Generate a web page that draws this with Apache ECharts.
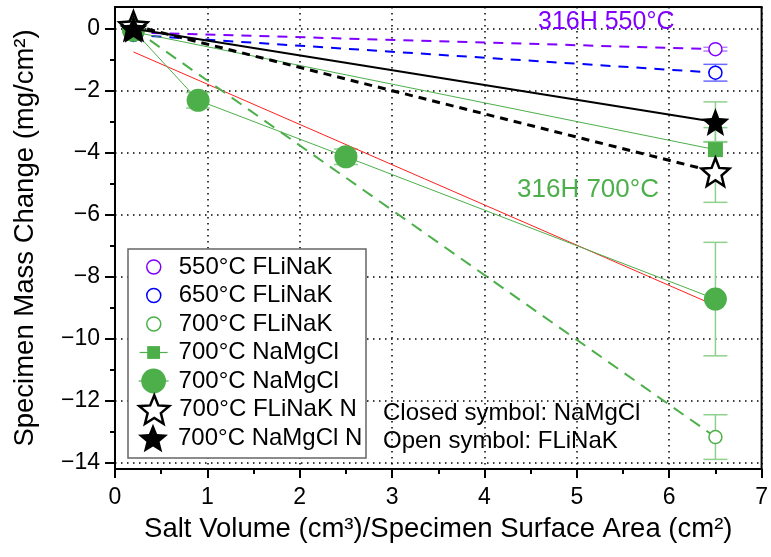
<!DOCTYPE html>
<html><head><meta charset="utf-8">
<script src="https://cdn.jsdelivr.net/npm/echarts@6/dist/echarts.min.js"></script>
<style>html,body{margin:0;padding:0;background:#fff}#c{width:771px;height:557px}</style>
</head><body><div id="c"></div>
<script>
// ---- data ----
const xEnds = [0.2, 6.5];
const fli550 = [-0.12, -0.66];
const fli550Err = [0, 0.06];
const fli650 = [-0.2, -1.42];
const fli650Err = [0, 0.27];
const fli700 = [0.0, -13.17];
const fli700Err = [0, 0.72];
const nmSq = [-0.1, -3.9];
const nmSqErr = [0, 0.71];
const nmCircX = [0.2, 0.9, 2.5, 6.5];
const nmCirc = [-0.05, -2.31, -4.13, -8.72];
const nmCircErr = [0, 0.25, 0.25, 1.83];
const fliN = [0.1, -4.62];
const fliNErr = [0, 0.98];
const nmN = [0.0, -3.01];
const nmNErr = [0, 0.65];
const fitX = [0.2, 6.5];
const fitY = [-0.75, -8.93];
const yTicks = [-14, -12, -10, -8, -6, -4, -2, 0];
const yMinorTicks = [-13, -11, -9, -7, -5, -3, -1];
const seriesIds = ['fli550', 'fli650', 'fli700', 'nmSq', 'nmCirc', 'fliN', 'nmN'];
const legendLabels = ['550°C FLiNaK', '650°C FLiNaK', '700°C FLiNaK', '700°C NaMgCl', '700°C NaMgCl', '700°C FLiNaK N', '700°C NaMgCl N'];
const annot550 = '316H 550°C';
const annot700 = '316H 700°C';
const noteClosed = 'Closed symbol: NaMgCl';
const noteOpen = 'Open symbol: FLiNaK';

// ---- styles ----
const FONT = '"Liberation Sans", Arial, Helvetica, sans-serif';
const PURPLE = '#7f00ff', BLUE = '#0000ff', GREEN = '#4daf4a', RED = '#ff2020';
const STAR = 'path://M50,0L62.93,32.2L97.55,34.55L70.92,56.8L79.39,90.45L50,72L20.61,90.45L29.08,56.8L2.45,34.55L37.07,32.2Z';

const zip = (xs, ys) => xs.map((x, i) => [x, ys[i]]);
const zip3 = (xs, ys, es) => xs.map((x, i) => [x, ys[i], es[i]]);

function errSeries(xs, ys, es, color) {
  return {
    type: 'custom', silent: true, z: 1,
    data: zip3(xs, ys, es),
    encode: {x: 0, y: 1},
    renderItem: function (params, api) {
      const x = api.value(0), y = api.value(1), e = api.value(2);
      if (!e) return {type: 'group', children: []};
      const t = api.coord([x, y + e]), b = api.coord([x, y - e]);
      const hw = 12, st = {stroke: color, lineWidth: 1.5};
      return {type: 'group', children: [
        {type: 'line', shape: {x1: t[0], y1: t[1], x2: b[0], y2: b[1]}, style: st},
        {type: 'line', shape: {x1: t[0] - hw, y1: t[1], x2: t[0] + hw, y2: t[1]}, style: st},
        {type: 'line', shape: {x1: b[0] - hw, y1: b[1], x2: b[0] + hw, y2: b[1]}, style: st}
      ]};
    }
  };
}

function lineSeries(id, data, symbol, size, itemStyle, lineStyle, z) {
  return {
    type: 'line', name: id, data: data, symbol: symbol, symbolSize: size,
    itemStyle: itemStyle, lineStyle: lineStyle, z: z || 2,
    emphasis: {disabled: true}, animation: false
  };
}

const series = [
  errSeries(xEnds, fli550, fli550Err, '#b27fff'),
  errSeries(xEnds, fli650, fli650Err, '#6a6aff'),
  errSeries(xEnds, fli700, fli700Err, '#8fd08c'),
  errSeries(xEnds, nmSq, nmSqErr, '#8fd08c'),
  errSeries(nmCircX, nmCirc, nmCircErr, '#8fd08c'),
  errSeries(xEnds, fliN, fliNErr, '#8fd08c'),
  errSeries(xEnds, nmN, nmNErr, '#8fd08c'),
  {type: 'line', name: 'fit', data: zip(fitX, fitY), symbol: 'none', lineStyle: {color: RED, width: 1}, z: 2, emphasis: {disabled: true}},
  lineSeries('fli550', zip(xEnds, fli550), 'circle', 13, {color: '#fff', borderColor: PURPLE, borderWidth: 1.5}, {color: PURPLE, width: 2, type: [10, 8]}),
  lineSeries('fli650', zip(xEnds, fli650), 'circle', 13, {color: '#fff', borderColor: BLUE, borderWidth: 1.5}, {color: BLUE, width: 2, type: [10, 8]}),
  lineSeries('fli700', zip(xEnds, fli700), 'circle', 13, {color: '#fff', borderColor: GREEN, borderWidth: 1.5}, {color: GREEN, width: 2, type: [12, 8]}),
  lineSeries('nmSq', zip(xEnds, nmSq), 'rect', 15, {color: GREEN}, {color: GREEN, width: 1}),
  lineSeries('nmCirc', zip(nmCircX, nmCirc), 'circle', 23, {color: GREEN}, {color: GREEN, width: 1}),
  lineSeries('fliN', zip(xEnds, fliN), STAR, 28, {color: '#fff', borderColor: '#000', borderWidth: 2.5}, {color: '#000', width: 3, type: [8, 6]}, 3),
  lineSeries('nmN', zip(xEnds, nmN), STAR, 28, {color: '#000'}, {color: '#000', width: 2}, 4)
];

// legend icons: [icon, itemWidth, itemHeight, itemStyle]
const legendIcons = [
  ['circle', 14, 14, {color: '#fff', borderColor: PURPLE, borderWidth: 1.5}],
  ['circle', 14, 14, {color: '#fff', borderColor: BLUE, borderWidth: 1.5}],
  ['circle', 14, 14, {color: '#fff', borderColor: GREEN, borderWidth: 1.5}],
  ['inherit', 28, 16, null],
  ['inherit', 30, 31, null],
  [STAR, 30, 30, {color: '#fff', borderColor: '#000', borderWidth: 2.5}],
  [STAR, 30, 30, {color: '#000'}]
];
const LH = 34;
const legends = seriesIds.map((id, i) => {
  const ic = legendIcons[i];
  const d = {name: id};
  if (ic[0] !== 'inherit') { d.icon = ic[0]; d.itemStyle = ic[3]; }
  else { d.lineStyle = {color: GREEN, width: 1.2, type: 'solid'}; }
  return {
    show: true, orient: 'vertical', selectedMode: false, padding: 0, itemGap: 0,
    left: 153 - ic[1] / 2, top: 267 + i * 28.5 - LH / 2,
    itemWidth: ic[1], itemHeight: ic[2], data: [d], z: 10,
    formatter: () => legendLabels[i],
    textStyle: {fontSize: 24, lineHeight: LH, color: '#000', fontFamily: FONT, padding: [0, 0, 0, 20 - ic[1] / 2]}
  };
});

const chart = echarts.init(document.getElementById('c'), null, {renderer: 'canvas'});
chart.setOption({
  animation: false,
  backgroundColor: '#fff',
  grid: {left: 115, right: 5, top: 7, bottom: 88, show: true, borderColor: '#000', borderWidth: 2, backgroundColor: 'transparent'},
  xAxis: {
    type: 'value', min: 0, max: 7, interval: 1,
    name: 'Salt Volume (cm³)/Specimen Surface Area (cm²)', nameLocation: 'middle', nameGap: 46,
    nameTextStyle: {fontSize: 27.5, color: '#000', fontFamily: FONT},
    axisLine: {onZero: false, lineStyle: {color: '#000', width: 2}},
    axisTick: {inside: false, length: 9, lineStyle: {color: '#000', width: 2}},
    minorTick: {show: true, splitNumber: 2, length: 5, lineStyle: {color: '#000', width: 2}},
    axisLabel: {fontSize: 23, color: '#000', fontFamily: FONT, margin: 17},
    splitLine: {show: true, lineStyle: {color: '#000', width: 1.5, type: [1.5, 4.5]}}
  },
  yAxis: [{
    type: 'value', min: -14.2, max: 0.7, splitNumber: 7,
    name: 'Specimen Mass Change (mg/cm²)', nameLocation: 'middle', nameGap: 76, nameRotate: 90,
    nameTextStyle: {fontSize: 27.5, color: '#000', fontFamily: FONT},
    axisLine: {onZero: false, lineStyle: {color: '#000', width: 2}},
    axisTick: {inside: false, length: 10, customValues: yTicks, lineStyle: {color: '#000', width: 2}},
    axisLabel: {fontSize: 23, color: '#000', fontFamily: FONT, margin: 15, customValues: yTicks,
      formatter: v => String(v).replace('-', '\u2212')},
    splitLine: {show: true, lineStyle: {color: '#000', width: 1.5, type: [1.5, 4.5]}}
  }, {
    type: 'value', min: -14.2, max: 0.7, position: 'left',
    axisLine: {show: false}, axisLabel: {show: false}, splitLine: {show: false},
    axisTick: {show: true, inside: false, length: 5, customValues: yMinorTicks, lineStyle: {color: '#000', width: 2}}
  }],
  legend: legends,
  graphic: [
    {type: 'rect', z: 5, shape: {x: 128, y: 249, width: 238, height: 209}, style: {fill: '#fff', stroke: '#666', lineWidth: 1.5}},
    {type: 'text', z: 10, x: 538, y: 22, style: {text: annot550, fontSize: 25, fontFamily: FONT, fill: PURPLE, verticalAlign: 'middle'}},
    {type: 'text', z: 10, x: 517, y: 190, style: {text: annot700, fontSize: 26, fontFamily: FONT, fill: GREEN, verticalAlign: 'middle'}},
    {type: 'text', z: 10, x: 383, y: 413, style: {text: noteClosed, fontSize: 24, fontFamily: FONT, fill: '#000', verticalAlign: 'middle'}},
    {type: 'text', z: 10, x: 383, y: 441, style: {text: noteOpen, fontSize: 24, fontFamily: FONT, fill: '#000', verticalAlign: 'middle'}}
  ],
  series: series
});
</script></body></html>
